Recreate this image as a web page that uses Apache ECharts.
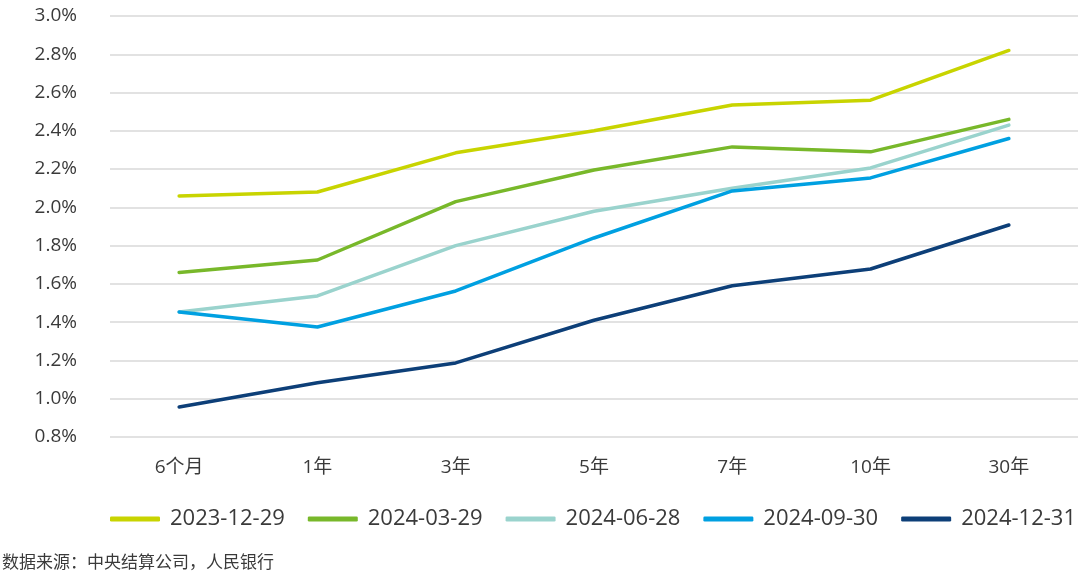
<!DOCTYPE html>
<html>
<head>
<meta charset="utf-8">
<script src="https://cdn.jsdelivr.net/npm/echarts@6/dist/echarts.min.js"></script>
<style>
html,body{margin:0;padding:0;background:#fff;}
#c{width:1080px;height:578px;}
</style>
</head>
<body>
<div id="c"></div>
<script>
const categories = ['6个月','1年','3年','5年','7年','10年','30年'];
const seriesNames = ['2023-12-29','2024-03-29','2024-06-28','2024-09-30','2024-12-31'];
const s20231229 = [2.06, 2.08, 2.285, 2.40, 2.535, 2.56, 2.82];
const s20240329 = [1.66, 1.725, 2.03, 2.195, 2.316, 2.29, 2.46];
const s20240628 = [1.453, 1.537, 1.80, 1.98, 2.10, 2.206, 2.43];
const s20240930 = [1.453, 1.375, 1.563, 1.84, 2.086, 2.154, 2.36];
const s20241231 = [0.957, 1.083, 1.187, 1.41, 1.59, 1.678, 1.908];
const yTicks = {min: 0.8, max: 3.0, interval: 0.2};
const sourceText = '数据来源：中央结算公司，人民银行';

const colors = ['#c8d400','#78b82a','#9ad3cd','#00a0e1','#0d3f78'];
const allData = [s20231229, s20240329, s20240628, s20240930, s20241231];
const font = '"Open Sans", "Noto Sans CJK SC", sans-serif';

const chart = echarts.init(document.getElementById('c'));
chart.setOption({
  animation: false,
  textStyle: {fontFamily: font},
  grid: {left: 110, right: 2, top: 16, bottom: 141, containLabel: false},
  legend: {
    left: 110, bottom: 48, width: 1000, padding: 0,
    icon: 'roundRect', itemWidth: 50, itemHeight: 5, itemGap: 23,
    textStyle: {fontSize: 22, color: '#3a3a3a', fontFamily: font, padding: [0,0,0,5]},
    data: seriesNames
  },
  graphic: [{
    type: 'text', left: 2, top: 555,
    style: {text: sourceText, fontSize: 17, fill: '#3a3a3a', fontFamily: font}
  }],
  xAxis: {
    type: 'category', data: categories, boundaryGap: true,
    axisLine: {show: false}, axisTick: {show: false},
    axisLabel: {fontSize: 19, color: '#3a3a3a', margin: 21, fontFamily: font}
  },
  yAxis: {
    type: 'value', min: yTicks.min, max: yTicks.max, interval: yTicks.interval,
    axisLine: {show: false}, axisTick: {show: false},
    splitLine: {lineStyle: {color: '#d9d9d9', width: 1.5}},
    axisLabel: {fontSize: 19, color: '#3a3a3a', margin: 33, fontFamily: font,
      formatter: v => v.toFixed(1) + '%'}
  },
  series: seriesNames.map((n, i) => ({
    name: n, type: 'line', data: allData[i], showSymbol: false, symbol: 'none',
    lineStyle: {color: colors[i], width: 3.5, cap: 'round', join: 'round'},
    itemStyle: {color: colors[i]}
  }))
});
</script>
</body>
</html>
